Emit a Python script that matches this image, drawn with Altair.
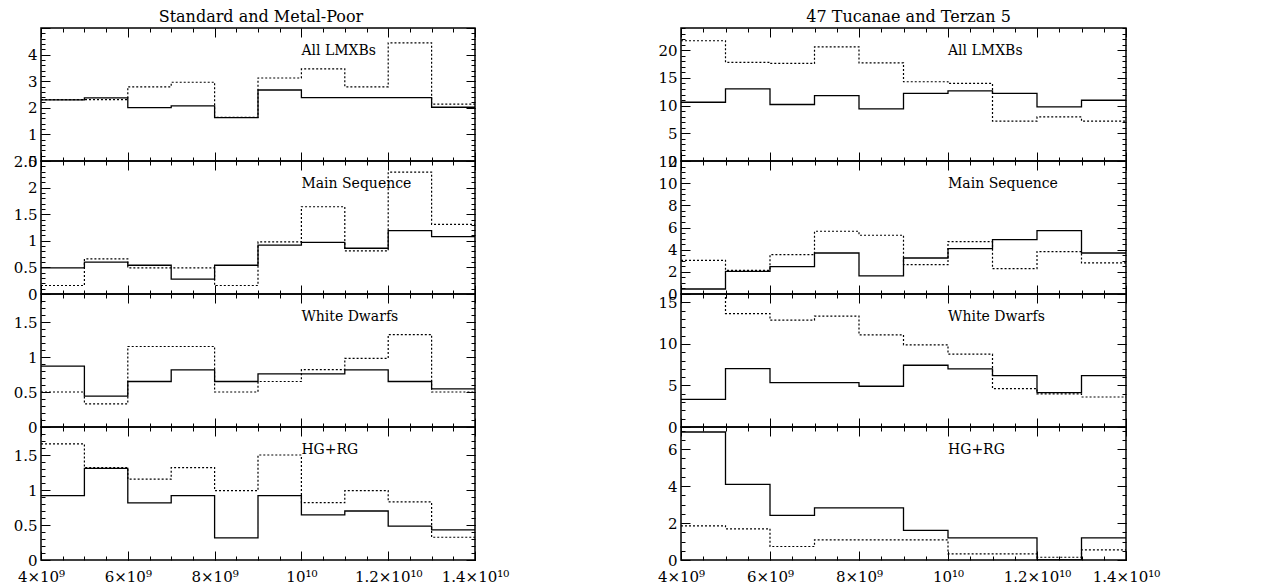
import altair as alt
import pandas as pd

# ---------------- data ----------------
bin_starts = [4e9, 5e9, 6e9, 7e9, 8e9, 9e9, 1.0e10, 1.1e10, 1.2e10, 1.3e10]
x_end = 1.4e10
x_label_values = [4e9, 6e9, 8e9, 1e10, 1.2e10, 1.4e10]
x_label_texts = ["4×10⁹", "6×10⁹", "8×10⁹", "10¹⁰", "1.2×10¹⁰", "1.4×10¹⁰"]

column_titles = ["Standard and Metal-Poor", "47 Tucanae and Terzan 5"]
panel_labels = ["All LMXBs", "Main Sequence", "White Dwarfs", "HG+RG"]

# Standard and Metal-Poor
std_all_solid = [2.30, 2.37, 2.01, 2.07, 1.63, 2.67, 2.38, 2.38, 2.38, 2.02]
std_all_dotted = [2.31, 2.31, 2.79, 2.96, 1.64, 3.12, 3.46, 2.79, 4.44, 2.14]
std_ms_solid = [0.49, 0.60, 0.54, 0.28, 0.54, 0.92, 0.97, 0.86, 1.19, 1.08]
std_ms_dotted = [0.16, 0.66, 0.49, 0.49, 0.16, 0.98, 1.64, 0.81, 2.29, 1.31]
std_wd_solid = [0.87, 0.44, 0.65, 0.815, 0.65, 0.76, 0.76, 0.815, 0.65, 0.545]
std_wd_dotted = [0.50, 0.33, 1.15, 1.15, 0.50, 0.65, 0.82, 0.98, 1.32, 0.50]
std_hg_solid = [0.92, 1.31, 0.815, 0.92, 0.315, 0.92, 0.645, 0.70, 0.485, 0.43]
std_hg_dotted = [1.66, 1.32, 1.155, 1.32, 0.99, 1.50, 0.82, 0.99, 0.83, 0.325]

# 47 Tucanae and Terzan 5
tuc_all_solid = [10.6, 13.0, 10.2, 11.8, 9.4, 12.2, 12.65, 12.2, 9.76, 10.96]
tuc_all_dotted = [21.7, 17.8, 17.6, 20.6, 17.7, 14.3, 14.0, 7.2, 7.95, 7.2]
tuc_ms_solid = [0.45, 2.05, 2.47, 3.7, 1.63, 3.25, 4.1, 4.9, 5.72, 3.7]
tuc_ms_dotted = [3.04, 2.14, 3.55, 5.66, 5.3, 2.65, 4.73, 2.29, 3.83, 2.8]
tuc_wd_solid = [3.33, 7.03, 5.34, 5.34, 4.9, 7.43, 6.99, 6.18, 4.14, 6.18]
tuc_wd_dotted = [17.5, 13.65, 12.85, 13.33, 11.08, 9.88, 8.76, 4.62, 3.98, 3.61]
tuc_hg_solid = [6.93, 4.09, 2.42, 2.82, 2.82, 1.6, 1.2, 1.2, 0.0, 1.2]
tuc_hg_dotted = [1.85, 1.69, 0.73, 1.09, 1.09, 1.09, 0.33, 0.33, 0.15, 0.55]

# y domains and tick labels per panel
left_domains = [[0, 5], [0, 2.5], [0, 1.9], [0, 1.9]]
left_labels = [[0, 1, 2, 3, 4], [0, 0.5, 1, 1.5, 2, 2.5], [0, 0.5, 1, 1.5], [0, 0.5, 1, 1.5]]
left_major = [1, 0.5, 0.5, 0.5]
left_minor = [0.2, 0.1, 0.1, 0.1]
right_domains = [[0, 24], [0, 12], [0, 16], [0, 7.2]]
right_labels = [[0, 5, 10, 15, 20], [0, 2, 4, 6, 8, 10, 12], [0, 5, 10, 15], [0, 2, 4, 6]]
right_major = [5, 2, 5, 2]
right_minor = [1, 0.5, 1, 0.5]

FONT = "DejaVu Serif"
H = 133
W_LEFT = 434
W_RIGHT = 445


def step_frame(vals):
    return pd.DataFrame({"x": bin_starts + [x_end], "y": list(vals) + [vals[-1]]})


def x_label_expr():
    expr = "''"
    for v, t in reversed(list(zip(x_label_values, x_label_texts))):
        expr = f"abs(datum.value - {v:.0f}) < 1 ? '{t}' : ({expr})"
    return expr


def steps(lo, hi, step):
    n = int(round((hi - lo) / step))
    return [round(lo + i * step, 6) for i in range(n + 1)]


def tick_axis(orient, values, size, offset):
    return alt.Axis(orient=orient, values=values, tickSize=size, offset=offset,
                    labels=False, domain=False, grid=False, title=None,
                    ticks=True, tickColor="black", tickWidth=1,
                    minExtent=0, maxExtent=0)


def panel(solid, dotted, label, ydom, ylab, ymaj_step, ymin_step, W, bottom):
    xsc = alt.Scale(domain=[4e9, 1.4e10], nice=False, zero=False)
    ysc = alt.Scale(domain=ydom, nice=False, zero=False)
    xmaj = steps(4e9, 1.4e10, 2e9)
    xmin = steps(4e9, 1.4e10, 5e8)
    ymaj = steps(ydom[0], ydom[1], ymaj_step)
    ymin = steps(ydom[0], ydom[1], ymin_step)
    sdf = step_frame(solid)
    ddf = step_frame(dotted)

    def line(df, xaxis, yaxis, **mk):
        return alt.Chart(df).mark_line(interpolate="step-after", clip=True, **mk).encode(
            x=alt.X("x:Q", scale=xsc, axis=xaxis),
            y=alt.Y("y:Q", scale=ysc, axis=yaxis),
        )

    if bottom:
        xlab = alt.Axis(orient="bottom", values=x_label_values, labelExpr=x_label_expr(),
                        ticks=False, tickSize=0, domain=False, grid=False, title=None,
                        labelFont=FONT, labelFontSize=15, labelPadding=9,
                        labelColor="black", labelFlush=False, labelOverlap=False)
    else:
        xlab = None
    ylab_axis = alt.Axis(orient="left", values=ylab, format="~g", ticks=False, tickSize=0,
                         domain=False, grid=False, title=None, labelFont=FONT,
                         labelFontSize=15, labelPadding=4, labelColor="black",
                         labelFlush=False, labelOverlap=False)

    l1 = line(sdf, xlab, ylab_axis, color="black", strokeWidth=1.3)
    l2 = line(ddf, tick_axis("top", xmaj, 9, -H), tick_axis("right", ymaj, 9, -W),
              color="black", strokeWidth=1.2, strokeDash=[2, 2])
    l3 = line(sdf, tick_axis("top", xmin, 4, -H), tick_axis("right", ymin, 4, -W), opacity=0)
    l4 = line(sdf, tick_axis("bottom", xmaj, 9, -H), tick_axis("left", ymaj, 9, -W), opacity=0)
    l5 = line(sdf, tick_axis("bottom", xmin, 4, -H), tick_axis("left", ymin, 4, -W), opacity=0)
    txt = alt.Chart(pd.DataFrame({"t": [label]})).mark_text(
        align="left", baseline="middle", font=FONT, fontSize=14, color="black"
    ).encode(x=alt.value(0.6 * W), y=alt.value(23), text="t:N")
    return alt.layer(l1, l2, l3, l4, l5, txt).resolve_axis(
        x="independent", y="independent").properties(width=W, height=H)


left_series = [(std_all_solid, std_all_dotted), (std_ms_solid, std_ms_dotted),
               (std_wd_solid, std_wd_dotted), (std_hg_solid, std_hg_dotted)]
right_series = [(tuc_all_solid, tuc_all_dotted), (tuc_ms_solid, tuc_ms_dotted),
                (tuc_wd_solid, tuc_wd_dotted), (tuc_hg_solid, tuc_hg_dotted)]

left_panels = [panel(s, d, panel_labels[i], left_domains[i], left_labels[i],
                     left_major[i], left_minor[i], W_LEFT, i == 3)
               for i, (s, d) in enumerate(left_series)]
right_panels = [panel(s, d, panel_labels[i], right_domains[i], right_labels[i],
                      right_major[i], right_minor[i], W_RIGHT, i == 3)
                for i, (s, d) in enumerate(right_series)]


def column(panels, title):
    return alt.VConcatChart(vconcat=panels, spacing=0, bounds="flush").properties(
        title=alt.TitleParams(title, font=FONT, fontSize=16, fontWeight="normal",
                              anchor="middle", offset=2, color="black"))


chart = alt.hconcat(column(left_panels, column_titles[0]),
                    column(right_panels, column_titles[1]),
                    spacing=146).configure(
    padding={"left": 4, "top": 0, "right": 5, "bottom": 2},
    background="white",
).configure_view(stroke="black", strokeWidth=1.5)

chart.save("out.html", embed_options={"renderer": "svg", "actions": False})
